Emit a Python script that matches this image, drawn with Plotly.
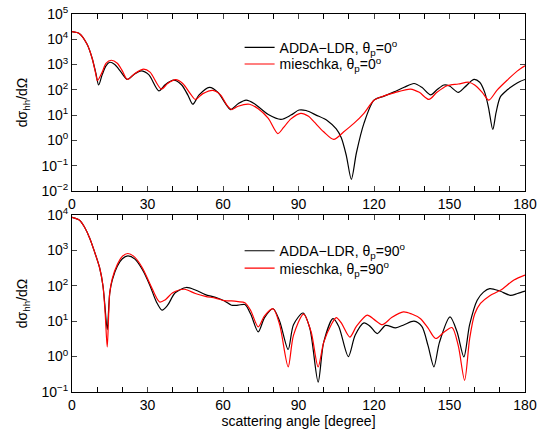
import plotly.graph_objects as go

# ---- data (scattering angle in degrees, log10 of dσ_hh/dΩ) ----
ang_adda_0 = [0, 3, 6, 8, 9.5, 10.6, 12, 13.5, 15, 17, 19.5, 22, 24.5, 27.5, 30.5, 34.5, 37, 40.4, 43.5, 46, 48,
              50.5, 54.6, 58, 61, 63, 66, 69.2, 72.5, 75, 78, 83, 87, 90.2, 93, 97, 101.5, 105, 107, 109, 111,
              113, 116, 120, 124, 128, 132, 135.9, 139, 142.5, 145, 147.8, 150, 153.5, 156, 159.7, 162, 164,
              165.5, 167.2, 168.5, 170.2, 173, 175.6, 178, 180]
log_adda_0 = [4.30, 4.22, 3.80, 3.25, 2.65, 2.19, 2.6, 2.95, 3.09, 3.0, 2.7, 2.41, 2.6, 2.75, 2.6, 1.96, 2.2, 2.38,
              2.2, 1.8, 1.43, 1.8, 2.10, 1.9, 1.45, 1.22, 1.45, 1.59, 1.45, 1.25, 1.02, 0.83, 1.0, 1.20, 1.18, 1.0,
              0.78, 0.45, 0.1, -0.6, -1.54, -0.5, 0.67, 1.59, 1.75, 1.92, 2.1, 2.25, 2.1, 1.80, 2.0, 2.19, 2.15,
              1.90, 2.1, 2.41, 2.3, 1.9, 1.3, 0.43, 1.1, 1.72, 2.0, 2.19, 2.33, 2.41]

ang_mie_0 = [0, 3, 6, 8, 9.5, 10.1, 12, 13.5, 15.6, 18, 20, 22, 25, 28.5, 31, 35.5, 38, 41.2, 44, 47, 49, 52, 56,
             59, 61.5, 63.5, 66, 70.5, 74, 78, 81.8, 84, 87, 90.9, 94, 96.2, 100, 104, 108, 112, 116, 120, 124,
             128, 134.5, 138, 141.8, 145, 149, 153.5, 157.7, 160, 163, 165.6, 169, 173, 177, 180]
log_mie_0 = [4.30, 4.22, 3.80, 3.25, 2.6, 2.36, 2.7, 3.05, 3.17, 3.05, 2.75, 2.41, 2.65, 2.82, 2.7, 2.03, 2.25,
             2.40, 2.25, 1.85, 1.62, 1.85, 1.98, 1.8, 1.4, 1.22, 1.35, 1.43, 1.25, 0.87, 0.27, 0.5, 0.85, 1.07,
             0.95, 0.73, 0.34, 0.04, 0.34, 0.67, 1.07, 1.59, 1.76, 1.88, 2.03, 1.9, 1.62, 1.9, 2.16, 2.23, 2.30,
             2.19, 1.9, 1.59, 2.0, 2.39, 2.75, 2.95]

ang_adda_90 = [0, 3, 5, 7, 9, 11, 12.3, 13, 14, 15, 16, 18, 20, 22.2, 25, 28, 31, 33.5, 35.8, 38, 41, 45.4, 49, 53,
               57, 60.6, 63.4, 66, 68.7, 71, 74, 76.5, 79.9, 82.5, 85.9, 88, 91.8, 94.5, 97.8, 100, 103.7, 106,
               109.8, 112.5, 116, 118.5, 121.3, 124.6, 128.6, 132, 135.9, 139, 141.5, 143.8, 146, 150.2, 153,
               155.7, 158, 161, 163.5, 166, 170, 174.2, 177, 180]
log_adda_90 = [3.93, 3.85, 3.65, 3.35, 2.95, 2.5, 2.0, 1.5, 0.76, 1.8, 2.16, 2.55, 2.76, 2.84, 2.75, 2.45, 2.0,
               1.55, 1.31, 1.45, 1.8, 1.95, 1.88, 1.75, 1.67, 1.57, 1.45, 1.45, 1.47, 1.2, 0.70, 1.1, 1.35, 1.0,
               0.20, 0.9, 1.23, 0.8, -0.72, 0.4, 1.07, 0.85, 0.0, 0.6, 0.95, 0.85, 0.65, 0.88, 0.81, 0.9, 1.0,
               0.85, 0.3, -0.29, 0.4, 1.12, 0.7, -0.01, 0.9, 1.59, 1.82, 1.92, 1.85, 1.73, 1.78, 1.85]

ang_mie_90 = [0, 3, 5, 7, 9, 11, 12.3, 13.2, 14, 15, 16, 18, 20, 22.2, 25, 28, 31, 34.8, 37, 40, 44.7, 49, 53, 57,
              60.6, 63.4, 66, 68.7, 71, 74, 76.5, 79.9, 82.5, 85.9, 88, 92, 95, 97.8, 100, 103, 105, 107, 110.4,
              113, 117.3, 120, 123.3, 127, 131.7, 135, 138.5, 141.5, 144.5, 148, 151, 153.5, 156, 158, 160,
              162.3, 166, 170.2, 175.6, 180]
log_mie_90 = [3.93, 3.85, 3.65, 3.35, 2.95, 2.5, 2.0, 1.2, 0.27, 1.8, 2.2, 2.6, 2.83, 2.91, 2.8, 2.5, 2.05, 1.54,
              1.6, 1.8, 1.90, 1.78, 1.70, 1.65, 1.58, 1.57, 1.55, 1.52, 1.3, 0.84, 1.15, 1.35, 0.9, -0.29, 0.6,
              1.2, 0.7, -0.29, 0.4, 0.9, 1.10, 0.95, 0.55, 0.85, 1.17, 1.05, 0.90, 1.1, 1.26, 1.2, 1.07, 0.8,
              0.51, 0.7, 0.82, 0.3, -0.67, 0.5, 1.2, 1.50, 1.72, 1.87, 2.16, 2.30]

x_ticks = [0, 30, 60, 90, 120, 150, 180]
top_decades = [-2, -1, 0, 1, 2, 3, 4, 5]
bot_decades = [-1, 0, 1, 2, 3, 4]

names = ["ADDA\u2212LDR, \u03b8<sub>p</sub>=0<sup>o</sup>", "mieschka, \u03b8<sub>p</sub>=0<sup>o</sup>",
         "ADDA\u2212LDR, \u03b8<sub>p</sub>=90<sup>o</sup>", "mieschka, \u03b8<sub>p</sub>=90<sup>o</sup>"]

FONT = "Liberation Sans, Arial, sans-serif"
FS = 14

fig = go.Figure()
series = [(ang_adda_0, log_adda_0, "black", "x", "y", "legend", names[0]),
          (ang_mie_0, log_mie_0, "#ff0000", "x", "y", "legend2", names[1]),
          (ang_adda_90, log_adda_90, "black", "x2", "y2", "legend3", names[2]),
          (ang_mie_90, log_mie_90, "#ff0000", "x2", "y2", "legend4", names[3])]
for ang, lg, col, xa, ya, leg, nm in series:
    fig.add_trace(go.Scatter(x=ang, y=[10 ** v for v in lg], mode="lines", name=nm,
                             line=dict(color=col, width=1.2, shape="spline", smoothing=0.8),
                             xaxis=xa, yaxis=ya, legend=leg))

def sup(k):
    return "10<sup>%s</sup>" % (str(k).replace("-", "\u2212"))

xcommon = dict(range=[0, 180], tickvals=x_ticks, ticks="inside", ticklen=5, tickwidth=1,
               showline=True, linecolor="black", linewidth=1, mirror="allticks", showgrid=False,
               zeroline=False, automargin=False, tickfont=dict(size=FS, family=FONT, color="black"),
               minor=dict(dtick=10, ticks="inside", ticklen=5, tickwidth=1, tickcolor="black", showgrid=False))
ycommon = dict(type="log", ticks="inside", ticklen=5, tickwidth=1, showline=True, linecolor="black",
               linewidth=1, mirror="allticks", showgrid=False, zeroline=False, automargin=False,
               tickfont=dict(size=FS, family=FONT, color="black"))

ytitle = dict(text="d\u03c3<sub>hh</sub>/d\u03a9", font=dict(size=FS, family=FONT, color="black"), standoff=10)

def leg(y):
    return dict(x=0.37, y=y, xanchor="left", yanchor="top", bgcolor="rgba(0,0,0,0)",
                font=dict(size=FS, family=FONT), tracegroupgap=0)

fig.update_layout(
    width=537, height=432,
    margin=dict(l=72, r=11.5, t=14, b=40.3, autoexpand=False),
    paper_bgcolor="white", plot_bgcolor="white",
    font=dict(family=FONT, size=FS, color="black"),
    xaxis=dict(anchor="y", domain=[0, 1], **xcommon),
    yaxis=dict(anchor="x", domain=[0.532, 1], range=[-2, 5], tickvals=[10 ** k for k in top_decades],
               ticktext=[sup(k) for k in top_decades], title=ytitle, **ycommon),
    xaxis2=dict(anchor="y2", domain=[0, 1],
                title=dict(text="scattering angle [degree]", font=dict(size=FS, family=FONT), standoff=4),
                **xcommon),
    yaxis2=dict(anchor="x2", domain=[0, 0.4686], range=[-1, 4], tickvals=[10 ** k for k in bot_decades],
                ticktext=[sup(k) for k in bot_decades], title=ytitle, **ycommon),
    legend=leg(0.953),
    legend2=leg(0.909),
    legend3=leg(0.415),
    legend4=leg(0.369),
    showlegend=True,
)

fig.write_html("out.html", config={"displayModeBar": False},
               post_script="document.body.style.margin='0';document.body.style.overflow='hidden';")
